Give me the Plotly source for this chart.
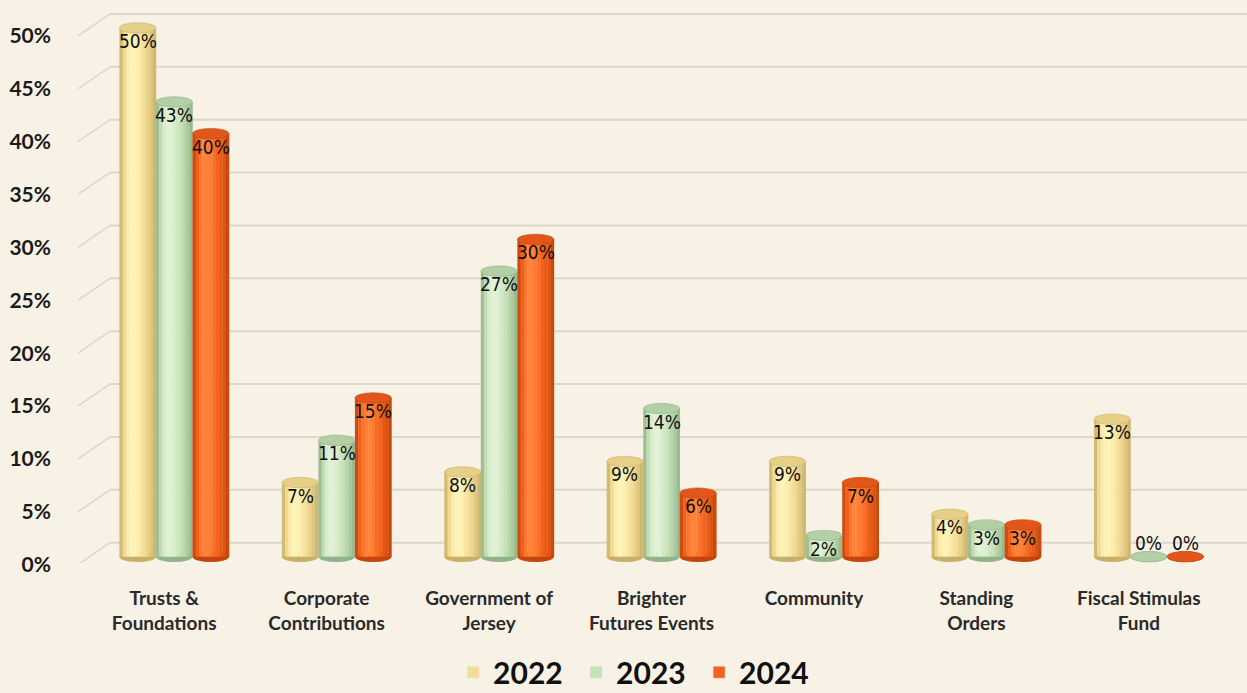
import plotly.graph_objects as go

categories = ["Trusts &<br>Foundations", "Corporate<br>Contributions", "Government of<br>Jersey",
              "Brighter<br>Futures Events", "Community", "Standing<br>Orders", "Fiscal Stimulas<br>Fund"]
years = ["2022", "2023", "2024"]
v2022 = [50, 7, 8, 9, 9, 4, 13]
v2023 = [43, 11, 27, 14, 2, 3, 0]
v2024 = [40, 15, 30, 6, 7, 3, 0]
tick_vals = [0, 5, 10, 15, 20, 25, 30, 35, 40, 45, 50]
tick_text = [f"{v}%" for v in tick_vals]

# style: (highlight, mid, shadow, cap) per series
palette = [
    ("#fff3b8", "#f4dd94", "#c9b06a", "#e6cf86"),
    ("#e0f2d6", "#c6e1b8", "#92b387", "#b2cfa5"),
    ("#ff8238", "#f4621b", "#c2450c", "#e2561a"),
]
BG = "#f8f1e5"
BAR_W = 0.225
N_SLICES = 11
profile = [0.15, 0.55, 0.85, 1.0, 1.0, 0.9, 0.75, 0.6, 0.45, 0.3, 0.1]


def hex2rgb(h):
    h = h.lstrip("#")
    return [int(h[i:i + 2], 16) for i in (0, 2, 4)]


def mix(a, b, t):
    ra, rb = hex2rgb(a), hex2rgb(b)
    return "rgb({},{},{})".format(*[round(x + (y - x) * t) for x, y in zip(ra, rb)])


def shade(pal, p):
    hi, mid, dark, _ = pal
    if p >= 0.6:
        return mix(mid, hi, (p - 0.6) / 0.4)
    return mix(dark, mid, p / 0.6)


fig = go.Figure()
shapes = []
annotations = []
cat_idx = list(range(len(categories)))
series = [v2022, v2023, v2024]
label_font = dict(family="DejaVu Sans Condensed, Roboto", size=19, color="#111111")
for s, (name, vals, pal) in enumerate(zip(years, series, palette)):
    center_off = (s - 1) * BAR_W
    sw = BAR_W / N_SLICES
    for k, p in enumerate(profile):
        fig.add_trace(go.Bar(
            x=cat_idx, y=vals, width=sw * 1.08,
            offset=center_off - BAR_W / 2 + k * sw,
            marker=dict(color=shade(pal, p), line=dict(width=0)),
            showlegend=False, hoverinfo="skip",
        ))
    fig.add_trace(go.Bar(x=[None], y=[None], name=name, marker=dict(color=pal[1]), showlegend=True))
    for i, v in enumerate(vals):
        xc = i + center_off
        shapes.append(dict(type="circle", xref="x", yref="y", x0=xc - BAR_W / 2, x1=xc + BAR_W / 2,
                           y0=-0.5, y1=0.5, fillcolor=pal[2], line=dict(width=0), layer="below"))
        shapes.append(dict(type="circle", xref="x", yref="y", x0=xc - BAR_W / 2, x1=xc + BAR_W / 2,
                           y0=v - 0.5, y1=v + 0.5, fillcolor=pal[3], line=dict(width=0.6, color=pal[2]),
                           layer="above"))
        if v > 0:
            annotations.append(dict(x=xc, y=v, xref="x", yref="y", text=f"{v}%", showarrow=False,
                                    yanchor="middle", yshift=-13, font=label_font))
        else:
            annotations.append(dict(x=xc, y=0, xref="x", yref="y", text=f"{v}%", showarrow=False,
                                    yanchor="middle", yshift=14, font=label_font))

grid_off = 1.32
gx0 = (110 - 93) / 1137
for v in tick_vals:
    shapes.append(dict(type="line", xref="paper", yref="y", x0=gx0, x1=1.05,
                       y0=v + grid_off, y1=v + grid_off, line=dict(color="#dcd7ce", width=2), layer="below"))
    shapes.append(dict(type="line", xref="paper", yref="y", x0=(78 - 93) / 1137, x1=gx0,
                       y0=v - 0.75, y1=v + grid_off, line=dict(color="#dcd7ce", width=1.5), layer="below"))

fig.update_layout(
    width=1247, height=693,
    paper_bgcolor=BG, plot_bgcolor=BG,
    margin=dict(l=93, r=17, t=5, b=130, autoexpand=False),
    barmode="overlay",
    shapes=shapes,
    annotations=annotations,
    showlegend=True,
    legend=dict(orientation="h", x=0.479, xanchor="center", yref="container", y=0.03, yanchor="middle",
                font=dict(family="Lato", size=30, color="#111111", weight="bold"),
                itemwidth=30, entrywidth=78, bgcolor="rgba(0,0,0,0)", traceorder="normal"),
)
fig.update_xaxes(range=[-0.5, 6.5], tickvals=cat_idx, ticktext=categories,
                 showgrid=False, showline=False, zeroline=False, ticks="", ticklabelstandoff=22,
                 ticklabelshift=-10, automargin=False,
                 tickfont=dict(family="Lato", size=19, color="#2a2a2a", weight="bold"))
fig.update_yaxes(range=[-0.6, 52.17], tickvals=tick_vals, ticktext=tick_text, showgrid=False,
                 zeroline=False, showline=False, ticks="", ticklabelshift=8, ticklabelstandoff=41,
                 automargin=False,
                 tickfont=dict(family="Lato", size=21, color="#1a1a1a", weight="bold"))

fig.write_html("out.html")
